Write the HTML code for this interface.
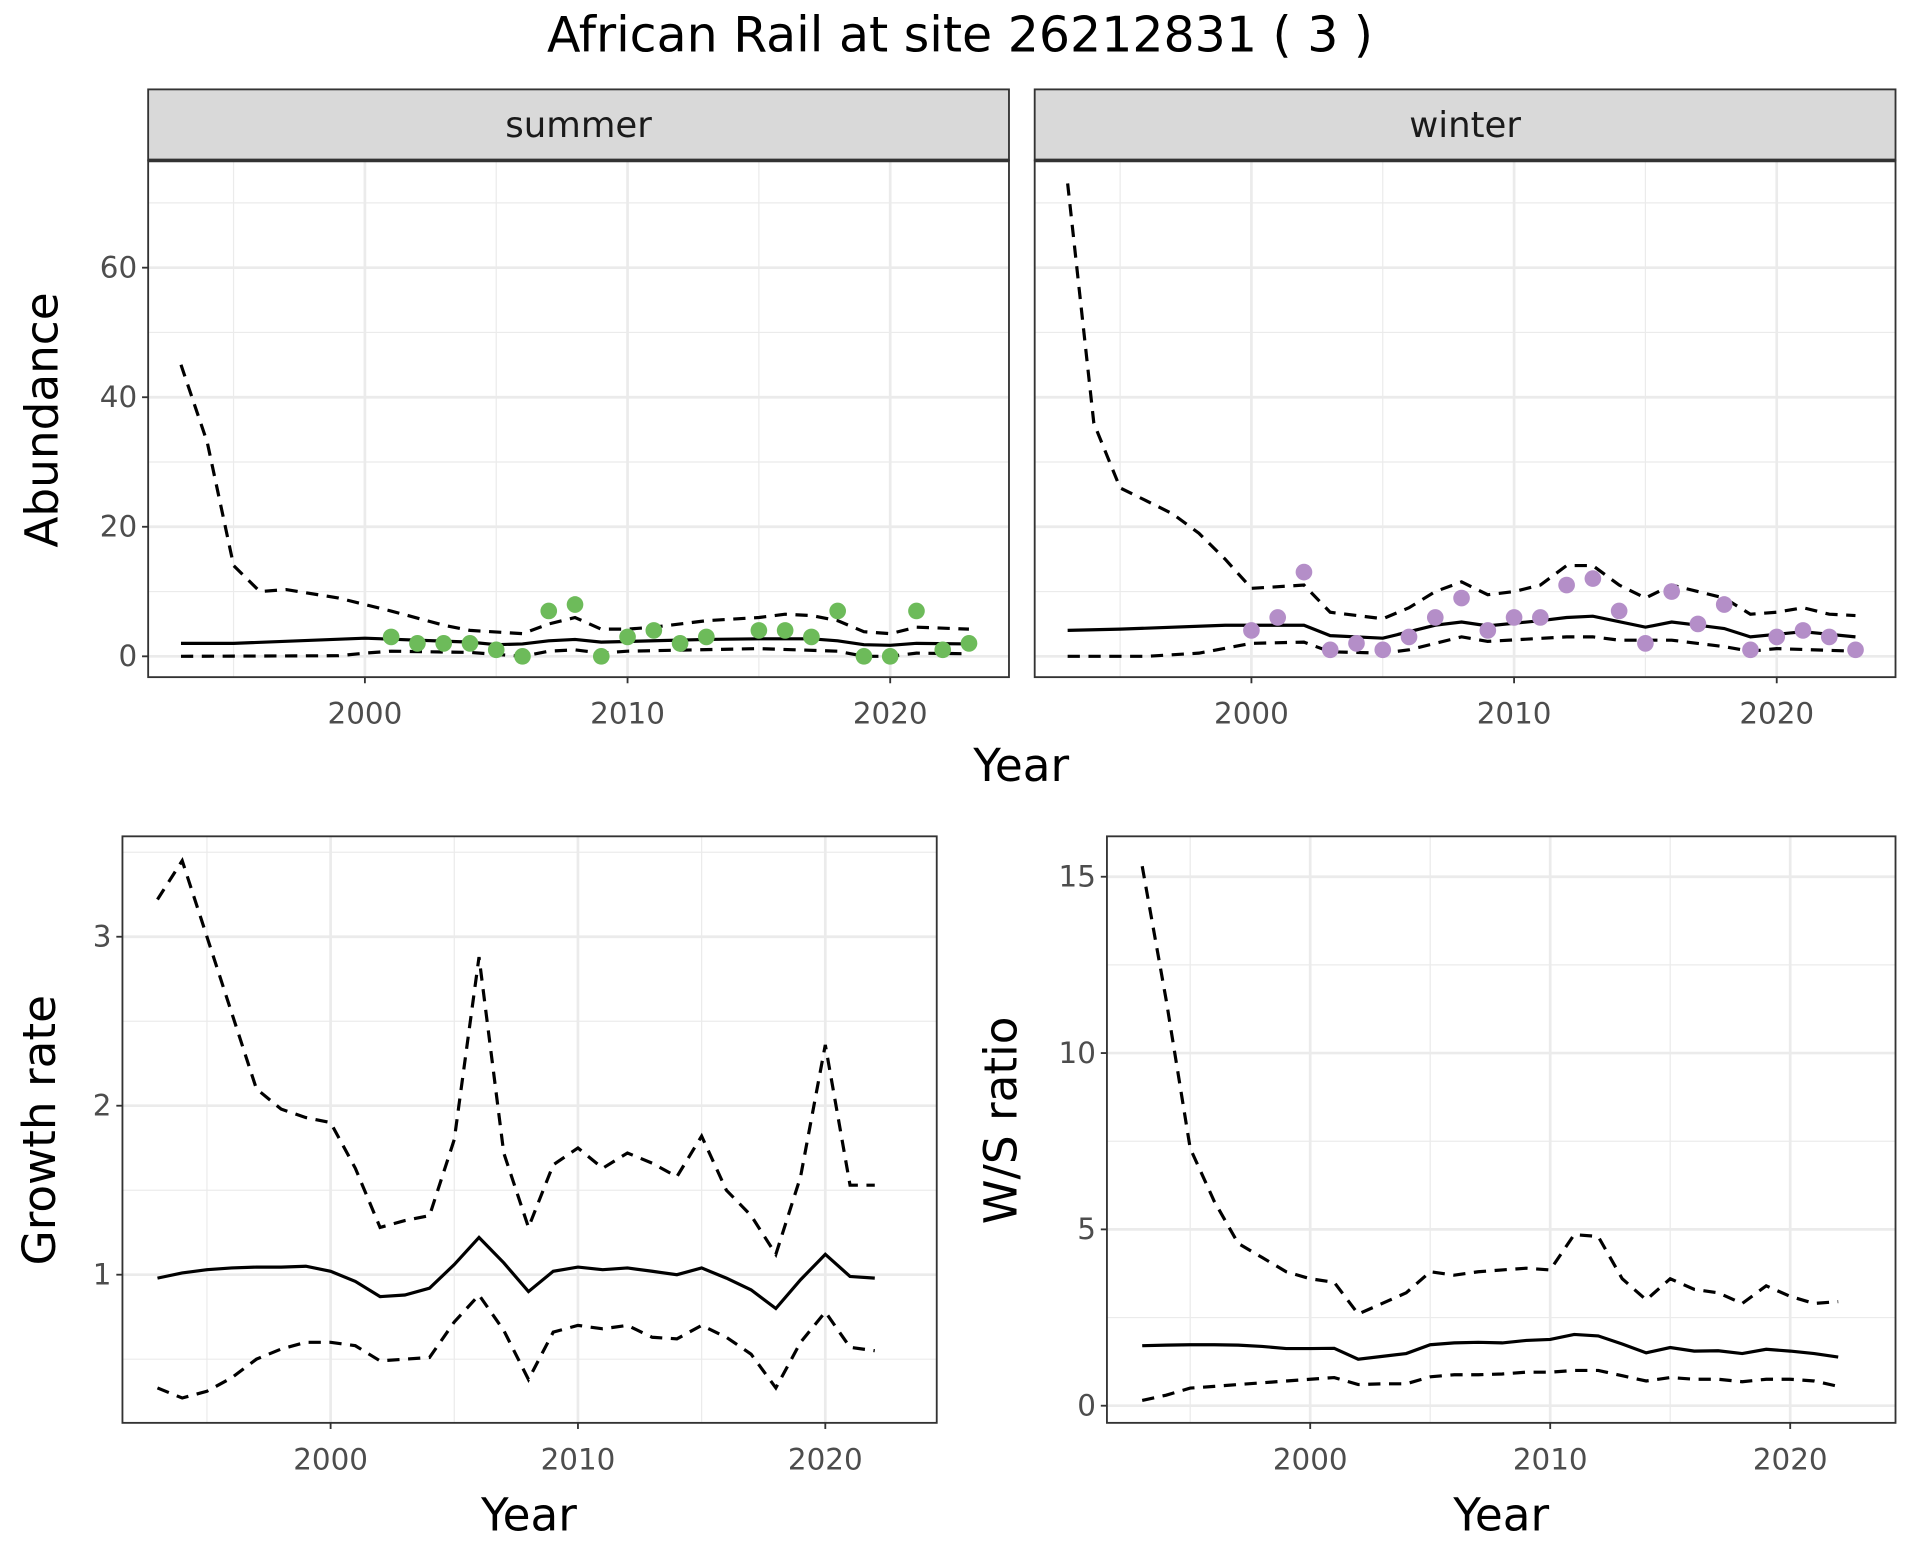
<!DOCTYPE html>
<html><head><meta charset="utf-8"><style>
html,body{margin:0;padding:0;background:#fff;}
svg{display:block;}
text{font-family:"DejaVu Sans","Liberation Sans",sans-serif;}
</style></head><body>
<svg id="s" width="1920" height="1560" viewBox="0 0 1568 1274" xmlns="http://www.w3.org/2000/svg"></svg>
<script>
const S=document.getElementById('s');let h='';
function P(pts){return pts.map((p,i)=>(i?'L':'M')+p[0].toFixed(1)+' '+p[1].toFixed(1)).join(' ');}
function T(x,y,t,o){o=o||{};h+=`<text x="${x}" y="${y}" font-size="${o.fs||24}" fill="${o.c||'#4d4d4d'}" text-anchor="${o.a||'middle'}" ${o.r?`transform="rotate(-90 ${x} ${y})"`:''}>${t}</text>`;}
h+=`<rect width="1568" height="1274" fill="#fff"/>`;
T(784,42,'African Rail at site 26212831 ( 3 )',{fs:40,c:'#000'});
function panel(o){
 const {x0,x1,y0,y1,xs,ys,ymaj,ymin,xmaj,xmin}=o;
 ymin.forEach(v=>h+=`<line x1="${x0}" x2="${x1}" y1="${ys(v)}" y2="${ys(v)}" stroke="#ebebeb" stroke-width="1"/>`);
 xmin.forEach(v=>h+=`<line y1="${y0}" y2="${y1}" x1="${xs(v)}" x2="${xs(v)}" stroke="#ebebeb" stroke-width="1"/>`);
 ymaj.forEach(v=>h+=`<line x1="${x0}" x2="${x1}" y1="${ys(v)}" y2="${ys(v)}" stroke="#ebebeb" stroke-width="2.2"/>`);
 xmaj.forEach(v=>h+=`<line y1="${y0}" y2="${y1}" x1="${xs(v)}" x2="${xs(v)}" stroke="#ebebeb" stroke-width="2.2"/>`);
}
function ticks(o,showY){
 const {x0,x1,y0,y1,xs,ys,ymaj,xmaj}=o;
 if(showY)ymaj.forEach(v=>{h+=`<line x1="${x0-5}" x2="${x0}" y1="${ys(v)}" y2="${ys(v)}" stroke="#333" stroke-width="1.5"/>`;T(x0-9,ys(v)+8,v,{a:'end'});});
 xmaj.forEach(v=>{h+=`<line y1="${y1}" y2="${y1+5}" x1="${xs(v)}" x2="${xs(v)}" stroke="#333" stroke-width="1.5"/>`;T(xs(v),y1+38,v);});
 h+=`<rect x="${x0}" y="${y0}" width="${x1-x0}" height="${y1-y0}" fill="none" stroke="#333" stroke-width="1.5"/>`;
}
function line(o,yrs,vals,dash){const pts=yrs.map((y,i)=>[o.xs(y),o.ys(vals[i])]);h+=`<path d="${P(pts)}" fill="none" stroke="#000" stroke-width="2.6" ${dash?'stroke-dasharray="10,7"':''}/>`;}
function pts(o,d,c){d.forEach(p=>h+=`<circle cx="${o.xs(p[0])}" cy="${o.ys(p[1])}" r="6.8" fill="${c}"/>`);}
function rng(a,b){let r=[];for(let i=a;i<=b;i++)r.push(i);return r;}
const ysT=v=>536-v*5.29;
const mk=(off)=>({x0:121+off,x1:824+off,y0:131,y1:553,xs:y=>298+off+(y-2000)*21.45,ys:ysT,ymaj:[0,20,40,60],ymin:[10,30,50,70],xmaj:[2000,2010,2020],xmin:[1995,2005,2015]});
const A=mk(0),B=mk(724);
[A,B].forEach(o=>{panel(o);});
const sMeanK=[[1993,2],[1995,2],[2000,2.8],[2004,2.2],[2005,1.8],[2006,1.9],[2007,2.4],[2008,2.6],[2009,2.2],[2011,2.4],[2013,2.6],[2015,2.7],[2017,2.7],[2018,2.4],[2019,1.8],[2020,1.7],[2021,2],[2023,1.9]];
const sUpK=[[1993,45],[1994,33],[1995,14],[1996,10],[1997,10.3],[1999,9],[2001,7],[2003,4.8],[2004,4],[2006,3.5],[2007,5],[2008,6],[2009,4.2],[2010,4.2],[2011,4.5],[2013,5.5],[2015,6],[2016,6.5],[2017,6.3],[2018,5.5],[2019,3.8],[2020,3.5],[2021,4.5],[2023,4.2]];
const sLoK=[[1993,0],[1999,0.1],[2000,0.5],[2001,0.8],[2004,0.6],[2005,0.3],[2006,0],[2007,0.8],[2008,1],[2009,0.5],[2010,0.8],[2015,1.2],[2018,0.8],[2019,0],[2020,0],[2021,0.5],[2023,0.4]];
function K(o,k,dash){const p=k.map(a=>[o.xs(a[0]),o.ys(a[1])]);h+=`<path d="${P(p)}" fill="none" stroke="#000" stroke-width="2.6" ${dash?'stroke-dasharray="10,7"':''}/>`;}
K(A,sUpK,1);K(A,sLoK,1);K(A,sMeanK,0);
pts(A,[[2001,3],[2002,2],[2003,2],[2004,2],[2005,1],[2006,0],[2007,7],[2008,8],[2009,0],[2010,3],[2011,4],[2012,2],[2013,3],[2015,4],[2016,4],[2017,3],[2018,7],[2019,0],[2020,0],[2021,7],[2022,1],[2023,2]],'#6dbb5a');
const wMeanK=[[1993,4],[1995,4.2],[1999,4.8],[2002,4.8],[2003,3.2],[2005,2.8],[2007,4.8],[2008,5.3],[2009,4.7],[2011,5.5],[2012,6],[2013,6.2],[2015,4.5],[2016,5.3],[2017,4.8],[2018,4.3],[2019,3],[2021,3.8],[2023,3]];
const wUpK=[[1993,73],[1994,36],[1995,26],[1996,24],[1997,22],[1998,19],[1999,15],[2000,10.5],[2002,11],[2003,6.8],[2005,5.8],[2006,7.5],[2007,10],[2008,11.5],[2009,9.5],[2010,10],[2011,11],[2012,14],[2013,14],[2014,11],[2015,9],[2016,11],[2017,10],[2018,9],[2019,6.5],[2020,6.8],[2021,7.5],[2022,6.5],[2023,6.3]];
const wLoK=[[1993,0],[1996,0],[1998,0.5],[2000,2],[2002,2.2],[2003,0.7],[2005,0.5],[2006,1],[2008,3],[2009,2.3],[2012,3],[2013,3],[2014,2.5],[2016,2.5],[2018,1.5],[2019,0.8],[2020,1.2],[2023,0.8]];
K(B,wUpK,1);K(B,wLoK,1);K(B,wMeanK,0);
pts(B,[[2000,4],[2001,6],[2002,13],[2003,1],[2004,2],[2005,1],[2006,3],[2007,6],[2008,9],[2009,4],[2010,6],[2011,6],[2012,11],[2013,12],[2014,7],[2015,2],[2016,10],[2017,5],[2018,8],[2019,1],[2020,3],[2021,4],[2022,3],[2023,1]],'#b48ec8');
ticks(A,true);ticks(B,false);
[[A,'summer'],[B,'winter']].forEach(([o,t])=>{h+=`<rect x="${o.x0}" y="73" width="${o.x1-o.x0}" height="58" fill="#d9d9d9" stroke="#333" stroke-width="1.5"/><line x1="${o.x0}" x2="${o.x1}" y1="131" y2="131" stroke="#333" stroke-width="3"/>`;T((o.x0+o.x1)/2,112,t,{fs:29,c:'#1a1a1a'});});
T(834,638,'Year',{fs:37,c:'#000'});
T(47,343,'Abundance',{fs:37,c:'#000',r:1});
const YR=rng(1993,2022);
const C={x0:100,x1:765,y0:683,y1:1162,xs:y=>270+(y-2000)*20.2,ys:v=>1041-(v-1)*138,ymaj:[1,2,3],ymin:[0.5,1.5,2.5,3.5],xmaj:[2000,2010,2020],xmin:[1995,2005,2015]};
const D={x0:904,x1:1548,y0:683,y1:1162,xs:y=>1070+(y-2000)*19.6,ys:v=>1148-v*28.8,ymaj:[0,5,10,15],ymin:[2.5,7.5,12.5],xmaj:[2000,2010,2020],xmin:[1995,2005,2015]};
panel(C);panel(D);
line(C,YR,[0.98,1.01,1.03,1.04,1.045,1.045,1.05,1.02,0.96,0.87,0.88,0.92,1.06,1.22,1.07,0.90,1.02,1.045,1.03,1.04,1.02,1.00,1.04,0.98,0.91,0.80,0.97,1.12,0.99,0.98],0);
line(C,YR,[3.22,3.45,3.0,2.55,2.1,1.98,1.93,1.9,1.63,1.28,1.32,1.35,1.8,2.88,1.72,1.28,1.65,1.75,1.63,1.72,1.66,1.58,1.82,1.5,1.35,1.12,1.58,2.36,1.53,1.53],1);
line(C,YR,[0.33,0.27,0.31,0.39,0.5,0.56,0.6,0.6,0.58,0.49,0.5,0.51,0.72,0.88,0.67,0.38,0.66,0.7,0.68,0.7,0.63,0.62,0.7,0.63,0.53,0.33,0.6,0.78,0.57,0.55],1);
line(D,YR,[1.7,1.72,1.73,1.73,1.72,1.68,1.62,1.62,1.63,1.32,1.4,1.48,1.73,1.78,1.8,1.78,1.85,1.88,2.02,1.98,1.75,1.5,1.65,1.55,1.56,1.48,1.6,1.55,1.48,1.38],0);
line(D,YR,[15.3,11.5,7.3,5.8,4.6,4.2,3.8,3.6,3.5,2.6,2.9,3.2,3.8,3.7,3.8,3.85,3.9,3.85,4.85,4.8,3.6,3.0,3.6,3.3,3.2,2.9,3.4,3.1,2.9,2.95],1);
line(D,YR,[0.15,0.3,0.5,0.55,0.6,0.65,0.7,0.75,0.8,0.6,0.62,0.62,0.82,0.88,0.88,0.9,0.95,0.95,1.0,1.0,0.85,0.7,0.8,0.75,0.75,0.68,0.75,0.75,0.7,0.55],1);
ticks(C,true);ticks(D,true);
T(432,1250,'Year',{fs:37,c:'#000'});T(1226,1250,'Year',{fs:37,c:'#000'});
T(45,923,'Growth rate',{fs:37,c:'#000',r:1});
T(830,915,'W/S ratio',{fs:37,c:'#000',r:1});
S.innerHTML=h;
</script>
</body></html>
